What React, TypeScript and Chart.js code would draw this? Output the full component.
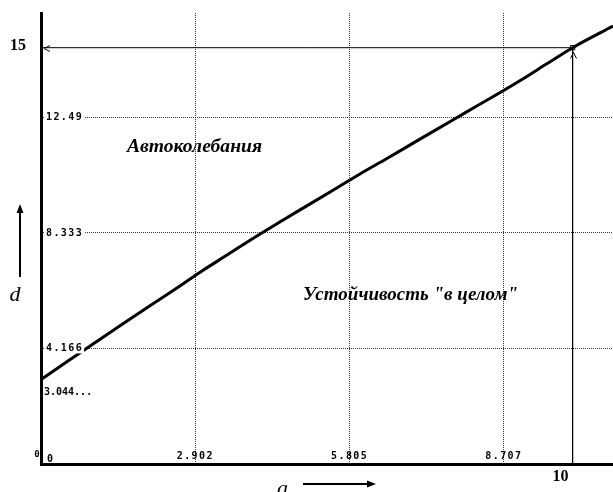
import React, { useEffect, useRef } from "react";
import { Chart, registerables } from "chart.js";

Chart.register(...registerables);

// Curve data: d as a function of a
const aValues = [0, 0.5, 1, 1.5, 2, 2.5, 3, 3.5, 4, 4.5, 5, 5.5, 6, 6.5, 7, 7.5, 8, 8.5, 9, 9.5, 10, 10.76];
const dValues = [3.044, 3.7, 4.35, 5.0, 5.64, 6.27, 6.92, 7.53, 8.14, 8.73, 9.3, 9.87, 10.45, 11.0, 11.56, 12.12, 12.68, 13.23, 13.8, 14.4, 15.0, 15.78];

// Guide lines to the marked point (a=10, d=15)
const guideA = [0, 10, 10];
const guideD = [15, 15, 0];
const markA = [10];
const markD = [15];

// Tick values and labels
const xTicks = [2.902, 5.805, 8.707];
const xTickLabels = ["2.902", "5.805", "8.707"];
const yTicks = [4.166, 8.333, 12.49];
const yTickLabels = ["4.166", "8.333", "12.49"];

const xMax = 10.76;
const yMax = 16.25;

const labelAuto = "Автоколебания";
const labelStable = "Устойчивость \"в целом\"";
const startLabel = "3.044...";

const overlayPlugin = {
  id: "overlay",
  afterDatasetsDraw(chart: any) {
    const ctx = chart.ctx as CanvasRenderingContext2D;
    const xs = chart.scales.x;
    const ys = chart.scales.y;
    ctx.save();
    ctx.fillStyle = "#000";
    ctx.strokeStyle = "#000";

    // y tick labels with white backdrop
    const mono = 'bold 10px "DejaVu Sans Mono"';
    ctx.font = mono;
    (ctx as any).letterSpacing = "1.4px";
    ctx.textBaseline = "middle";
    ctx.textAlign = "left";
    yTicks.forEach((v, i) => {
      const py = ys.getPixelForValue(v);
      const w = ctx.measureText(yTickLabels[i]).width;
      ctx.fillStyle = "#fff";
      ctx.fillRect(44, py - 5, w + 3, 10);
      ctx.fillStyle = "#000";
      ctx.fillText(yTickLabels[i], 46, py + 0.5);
    });
    // x tick labels
    ctx.textAlign = "center";
    xTicks.forEach((v, i) => {
      const px = xs.getPixelForValue(v);
      ctx.fillText(xTickLabels[i], px, xs.top - 8);
    });
    (ctx as any).letterSpacing = "0px";

    // origin zeros
    ctx.font = 'bold 9px "DejaVu Sans Mono"';
    ctx.textAlign = "center";
    ctx.fillText("0", xs.left - 4, xs.top - 9);
    ctx.font = 'bold 10px "DejaVu Sans Mono"';
    ctx.fillText("0", xs.left + 9, xs.top - 5);

    // start value label
    ctx.font = 'bold 10px "DejaVu Sans Mono"';
    ctx.textAlign = "left";
    ctx.fillText(startLabel, xs.left + 3, ys.getPixelForValue(dValues[0]) + 13);

    // big labels
    ctx.font = 'bold 16px "Liberation Serif"';
    ctx.textAlign = "center";
    ctx.fillText("15", 18, ys.getPixelForValue(15) - 2);
    ctx.fillText("10", xs.getPixelForValue(10) - 12, xs.top + 13);

    // axis names
    ctx.font = 'italic 22px "Liberation Serif"';
    ctx.fillText("d", 15, 295);
    ctx.textBaseline = "alphabetic";
    ctx.textAlign = "left";
    ctx.fillText("a", 277, 495);

    // axis name arrows
    ctx.lineWidth = 2;
    ctx.beginPath();
    ctx.moveTo(20, 277);
    ctx.lineTo(20, 210);
    ctx.stroke();
    ctx.beginPath();
    ctx.moveTo(20, 204);
    ctx.lineTo(16.5, 213);
    ctx.lineTo(23.5, 213);
    ctx.closePath();
    ctx.fill();
    ctx.beginPath();
    ctx.moveTo(303, 484);
    ctx.lineTo(370, 484);
    ctx.stroke();
    ctx.beginPath();
    ctx.moveTo(376, 484);
    ctx.lineTo(367, 480.5);
    ctx.lineTo(367, 487.5);
    ctx.closePath();
    ctx.fill();

    // guide arrowheads
    ctx.lineWidth = 1;
    const gx0 = xs.getPixelForValue(0) + 3;
    const gy = Math.round(ys.getPixelForValue(15)) + 0.5;
    ctx.beginPath();
    ctx.moveTo(gx0 + 6, gy - 3);
    ctx.lineTo(gx0, gy);
    ctx.lineTo(gx0 + 6, gy + 3);
    ctx.stroke();
    const vx = Math.round(xs.getPixelForValue(10)) + 0.5;
    const vy = gy + 4;
    ctx.beginPath();
    ctx.moveTo(vx - 3, vy + 6);
    ctx.lineTo(vx, vy);
    ctx.lineTo(vx + 3, vy + 6);
    ctx.stroke();

    // region annotations, stretched to the measured widths
    const fit = (text: string, x0: number, x1: number, cy: number) => {
      ctx.font = 'italic bold 19px "Liberation Serif"';
      const w = ctx.measureText(text).width;
      ctx.save();
      ctx.translate(x0, cy);
      ctx.scale((x1 - x0) / w, 1);
      ctx.textBaseline = "middle";
      ctx.textAlign = "left";
      ctx.fillText(text, 0, 0);
      ctx.restore();
    };
    fit(labelAuto, 127, 262, 147);
    fit(labelStable, 303, 518, 295);

    ctx.restore();
  },
};

export default function App() {
  const ref = useRef<HTMLCanvasElement | null>(null);
  useEffect(() => {
    if (!ref.current) return;
    const chart = new Chart(ref.current, {
      type: "line",
      data: {
        datasets: [
          {
            data: aValues.map((a, i) => ({ x: a, y: dValues[i] })),
            borderColor: "#000",
            borderWidth: 3,
            pointRadius: 0,
            cubicInterpolationMode: "monotone",
            fill: false,
          },
          {
            data: guideA.map((a, i) => ({ x: a, y: guideD[i] })),
            borderColor: "#000",
            borderWidth: 1,
            pointRadius: 0,
            tension: 0,
            fill: false,
          },
          {
            data: markA.map((a, i) => ({ x: a, y: markD[i] })),
            showLine: false,
            pointStyle: "rect",
            pointRadius: 3,
            pointBackgroundColor: "#fff",
            pointBorderColor: "#000",
            pointBorderWidth: 1,
          },
        ],
      },
      options: {
        responsive: false,
        animation: false,
        devicePixelRatio: 1,
        layout: { autoPadding: false, padding: { left: 41, top: 13, right: 0, bottom: 28 } },
        plugins: { legend: { display: false }, tooltip: { enabled: false } },
        scales: {
          x: {
            type: "linear",
            min: 0,
            max: xMax,
            afterBuildTicks: (s: any) => {
              s.ticks = xTicks.map((v) => ({ value: v }));
            },
            ticks: { display: false },
            grid: { drawTicks: false, color: "#333", lineWidth: 1 },
            border: { display: true, color: "#000", width: 3, dash: [1, 1] },
          },
          y: {
            type: "linear",
            min: 0,
            max: yMax,
            afterBuildTicks: (s: any) => {
              s.ticks = yTicks.map((v) => ({ value: v }));
            },
            ticks: { display: false },
            grid: { drawTicks: false, color: "#333", lineWidth: 1 },
            border: { display: true, color: "#000", width: 3, dash: [1, 1] },
          },
        },
      },
      plugins: [overlayPlugin],
    } as any);
    return () => chart.destroy();
  }, []);
  return (
    <div style={{ position: "fixed", left: 0, top: 0, width: 613, height: 492, background: "#fff" }}>
      <canvas ref={ref} width={613} height={492} style={{ width: 613, height: 492 }} />
    </div>
  );
}
